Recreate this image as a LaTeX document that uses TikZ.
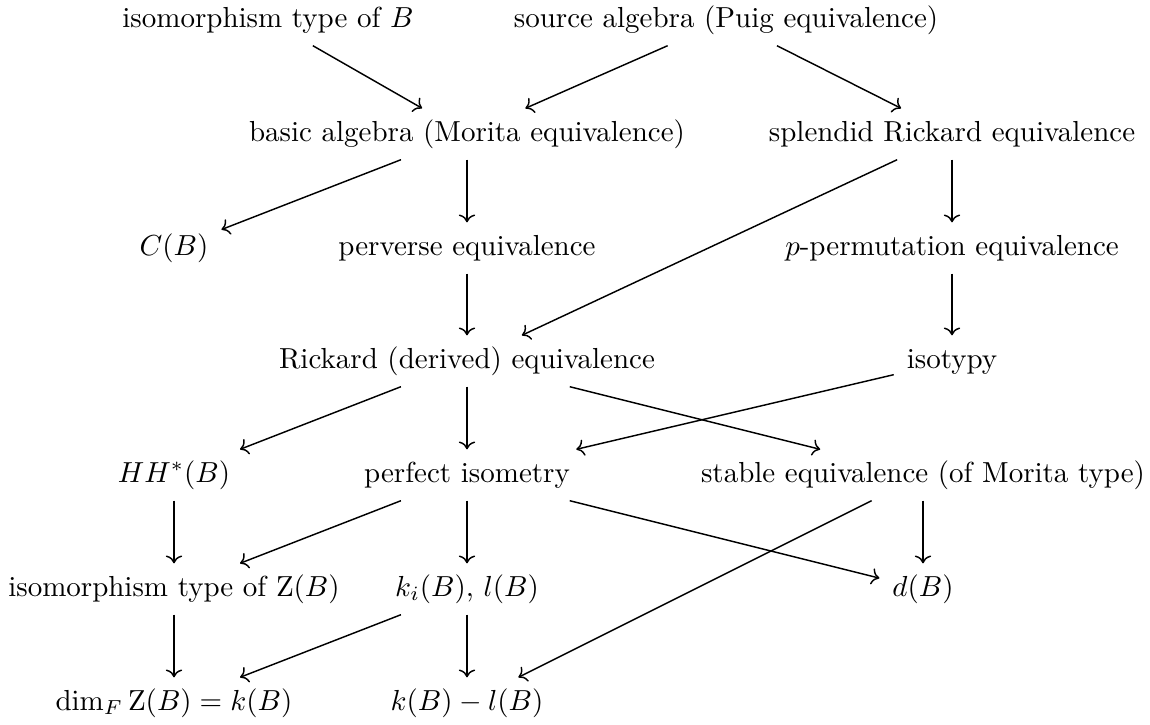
\documentclass[tikz,border=0pt]{standalone}
\usepackage{tikz}
\usetikzlibrary{arrows.meta}

\begin{document}
\begin{tikzpicture}[
  x=0.345pt, y=-0.345pt,
  entry/.style={inner xsep=1ex,inner ysep=0.85ex,text height=7.5pt,text depth=2.5pt},
  arrow/.style={-{Computer Modern Rightarrow},line width=0.5pt},
]
  \useasboundingbox (0,0) rectangle (1150,724);

  % Block invariants, strongest at the top.
  \node[entry] (isoB)     at (268,20)  {isomorphism type of $B$};
  \node[entry] (source)   at (726,20)  {source algebra (Puig equivalence)};
  \node[entry] (basic)    at (467,134) {basic algebra (Morita equivalence)};
  \node[entry] (splendid) at (952,134) {splendid Rickard equivalence};
  \node[entry] (CB)       at (174,248) {$C(B)$};
  \node[entry] (perverse) at (467,248) {perverse equivalence};
  \node[entry] (pperm)    at (952,248) {$p$-permutation equivalence};
  \node[entry] (rickard)  at (467,361) {Rickard (derived) equivalence};
  \node[entry] (isotypy)  at (952,361) {isotypy};
  \node[entry] (HH)       at (174,475) {$HH^*(B)$};
  \node[entry] (perfect)  at (467,475) {perfect isometry};
  \node[entry] (stable)   at (923,475) {stable equivalence (of Morita type)};
  \node[entry] (isoZ)     at (174,589) {isomorphism type of $\mathrm{Z}(B)$};
  \node[entry] (kil)      at (467,589) {$k_i(B)$, $l(B)$};
  \node[entry] (dB)       at (923,589) {$d(B)$};
  \node[entry] (dimZ)     at (174,703) {$\dim_F \mathrm{Z}(B) = k(B)$};
  \node[entry] (kl)       at (467,703) {$k(B) - l(B)$};

  % Implications.
  \draw[arrow] (isoB) -- (basic);
  \draw[arrow] (source) -- (basic);
  \draw[arrow] (source) -- (splendid);
  \draw[arrow] (basic) -- (CB);
  \draw[arrow] (basic) -- (perverse);
  \draw[arrow] (splendid) -- (rickard);
  \draw[arrow] (splendid) -- (pperm);
  \draw[arrow] (perverse) -- (rickard);
  \draw[arrow] (pperm) -- (isotypy);
  \draw[arrow] (rickard) -- (HH);
  \draw[arrow] (rickard) -- (perfect);
  \draw[arrow] (rickard) -- (stable);
  \draw[arrow] (isotypy) -- (perfect);
  \draw[arrow] (HH) -- (isoZ);
  \draw[arrow] (perfect) -- (isoZ);
  \draw[arrow] (perfect) -- (kil);
  \draw[arrow] (perfect) -- (dB);
  \draw[arrow] (stable) -- (dB);
  \draw[arrow] (stable) -- (kl);
  \draw[arrow] (isoZ) -- (dimZ);
  \draw[arrow] (kil) -- (dimZ);
  \draw[arrow] (kil) -- (kl);

\end{tikzpicture}
\end{document}
